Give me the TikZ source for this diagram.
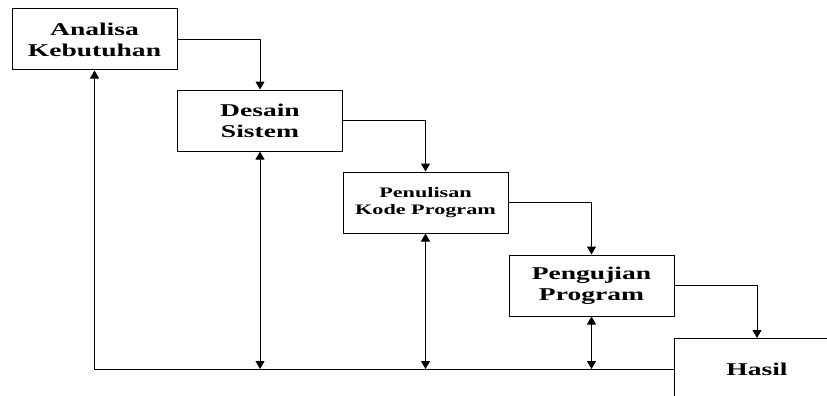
\documentclass[tikz,border=0pt]{standalone}
\usepackage{fontspec}
\usetikzlibrary{arrows.meta}
\newfontfamily\widefont[FakeStretch=1.53]{Liberation Serif}
\tikzset{
  stage/.style={draw, line width=1pt, minimum width=165pt, minimum height=61pt, inner sep=0pt, align=center, font=\widefont\bfseries\fontsize{18}{21}\selectfont},
  flow/.style={line width=1pt, -{Triangle[length=8pt,width=9pt]}},
  both/.style={line width=1pt, {Triangle[length=8pt,width=9pt]}-{Triangle[length=8pt,width=9pt]}},
}
\begin{document}
\begin{tikzpicture}[x=1pt,y=-1pt]
\useasboundingbox (0,0) rectangle (827,396);
\node[stage] (b1) at (94.5,39.5) {Analisa\\Kebutuhan};
\node[stage] (b2) at (260,120.5) {Desain\\Sistem};
\node[stage, font=\widefont\bfseries\fontsize{14.5}{17}\selectfont] (b3) at (425.5,202.5) {Penulisan\\Kode Program};
\node[stage] (b4) at (591.5,285.5) {Pengujian\\Program};
\begin{scope}
\clip (0,0) rectangle (827,396);
\node[stage, minimum width=166pt] (hasil) at (757,369) {Hasil};
\end{scope}
\draw[flow] (b1.east) -| (b2.north);
\draw[flow] (b2.east) -| (b3.north);
\draw[flow] (b3.east) -| (b4.north);
\draw[flow] (b4.east) -| (hasil.north);
\draw[flow] (hasil.west) -| (b1.south);
\draw[both] (b2.south) -- (b2.south |- hasil.west);
\draw[both] (b3.south) -- (b3.south |- hasil.west);
\draw[both] (b4.south) -- (b4.south |- hasil.west);
\end{tikzpicture}
\end{document}
